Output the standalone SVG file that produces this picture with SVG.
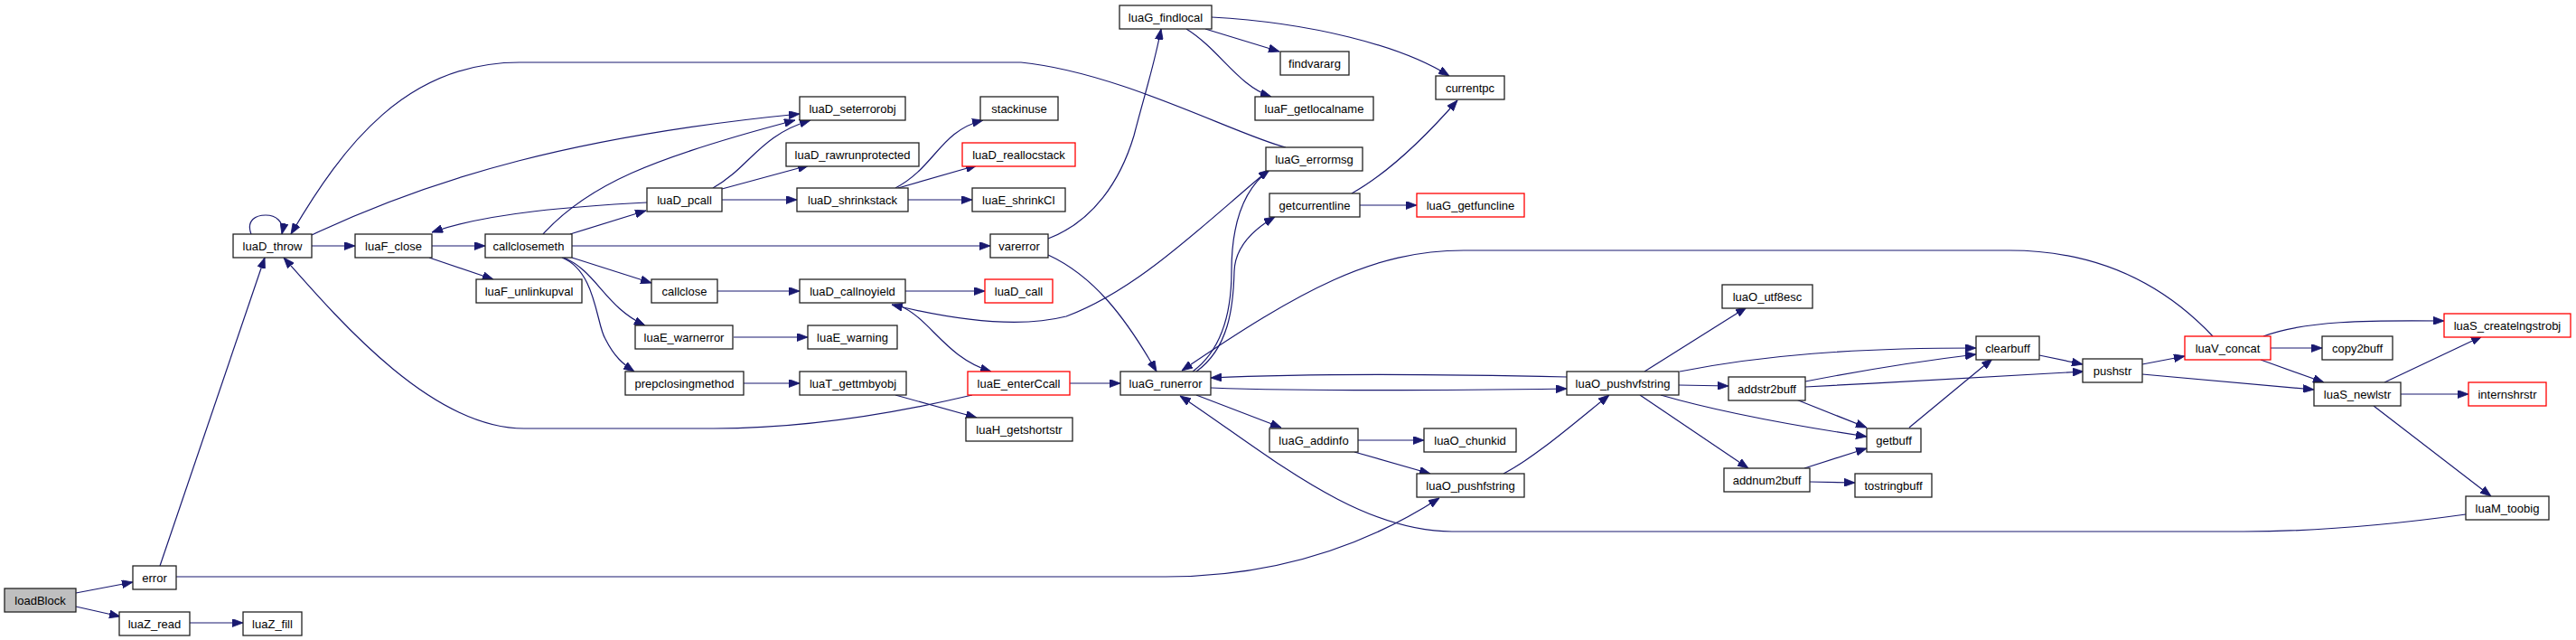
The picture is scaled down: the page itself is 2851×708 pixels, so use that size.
<svg xmlns="http://www.w3.org/2000/svg" width="2851" height="708" viewBox="0 0 2851 708">
<defs>
<style>
.n rect{fill:#fff;stroke:#222;stroke-width:1.3}
.n.r rect{stroke:#ff0000}
.n.g rect{fill:#bfbfbf}
.n text{font-family:"Liberation Sans",Arial,sans-serif;font-size:13px;fill:#000;text-anchor:middle}
.e path{fill:none;stroke:#191970;stroke-width:1.2;marker-end:url(#ah)}
</style>
<marker id="ah" markerUnits="userSpaceOnUse" markerWidth="12" markerHeight="9" refX="12" refY="4.5" orient="auto">
<path d="M0,0 L12,4.5 L0,9 z" fill="#191970" stroke="#191970" stroke-width="0.8"/>
</marker>
</defs>
<rect width="2851" height="708" fill="#fff"/>
<g id="edges" class="e">
<path d="M84,656 L147,644"/>
<path d="M84,671 L133,682"/>
<path d="M210,689 L269,689"/>
<path d="M177,626 L293,285"/>
<path d="M195,638 L1290,638 C1420,638 1520,598 1593,551"/>
<path d="M278,259 C272,243 284,238 294,238 C305,238 315,245 312,259"/>
<path d="M345,272 L393,272"/>
<path d="M478,272 L537,272"/>
<path d="M475,285 L546,309"/>
<path d="M345,260 C480,196 640,150 885,126"/>
<path d="M601,259 C650,205 720,175 880,133"/>
<path d="M789,208 C830,185 840,150 897,133"/>
<path d="M631,259 L715,233"/>
<path d="M633,272 L1096,272"/>
<path d="M633,285 L721,313"/>
<path d="M624,285 C660,300 670,340 714,360"/>
<path d="M622,285 C660,300 660,360 670,375 C680,395 690,403 702,411"/>
<path d="M716,224 C640,228 540,235 478,257"/>
<path d="M799,209 L895,183"/>
<path d="M799,221 L882,221"/>
<path d="M991,208 C1035,185 1040,145 1088,133"/>
<path d="M994,208 L1081,183"/>
<path d="M1005,221 L1076,221"/>
<path d="M1160,264 C1210,245 1240,200 1255,150 C1268,100 1278,70 1285,32"/>
<path d="M1160,282 C1210,305 1245,350 1280,411"/>
<path d="M794,322 L885,322"/>
<path d="M1002,322 L1090,322"/>
<path d="M812,373 L894,373"/>
<path d="M823,424 L885,424"/>
<path d="M991,437 L1081,462"/>
<path d="M1076,437 C1000,455 900,474 790,474 L580,474 C480,474 380,360 314,285"/>
<path d="M1184,424 L1240,424"/>
<path d="M995,338 C1030,352 1045,395 1097,411"/>
<path d="M1403,189 C1330,250 1260,320 1180,350 C1120,365 1040,350 987,337"/>
<path d="M1423,163 C1370,150 1240,80 1130,69 L575,69 C450,69 380,160 322,259"/>
<path d="M1334,32 L1416,57"/>
<path d="M1313,32 C1350,55 1370,95 1407,107"/>
<path d="M1341,19 C1450,25 1550,50 1604,84"/>
<path d="M1496,214 C1530,195 1570,160 1613,111"/>
<path d="M1505,227 L1568,227"/>
<path d="M1320,411 C1355,385 1363,340 1363,300 C1363,250 1375,210 1405,188"/>
<path d="M1324,411 C1360,385 1365,340 1366,300 C1367,275 1385,255 1411,240"/>
<path d="M2449,372 C2400,320 2330,277 2224,277 L1620,277 C1520,277 1440,320 1308,410"/>
<path d="M1734,417 C1600,414 1450,413 1340,418"/>
<path d="M1340,429 C1450,433 1600,432 1734,430"/>
<path d="M1324,437 L1418,473"/>
<path d="M2729,569 C2650,580 2560,588 2483,588 L1607,588 C1500,588 1400,500 1306,438"/>
<path d="M1503,487 L1576,487"/>
<path d="M1499,500 L1583,524"/>
<path d="M1664,524 C1700,505 1740,470 1781,437"/>
<path d="M1820,411 L1933,340"/>
<path d="M1859,411 C1950,393 2050,385 2187,385"/>
<path d="M1858,426 L1913,427"/>
<path d="M1838,437 C1900,455 1980,470 2066,483"/>
<path d="M1815,437 L1935,518"/>
<path d="M1998,422 C2060,410 2120,400 2187,392"/>
<path d="M1998,428 C2100,423 2200,416 2306,411"/>
<path d="M1988,442 L2066,473"/>
<path d="M1997,518 L2066,496"/>
<path d="M2003,533 L2053,534"/>
<path d="M2113,473 L2205,397"/>
<path d="M2257,393 L2305,403"/>
<path d="M2371,403 L2418,394"/>
<path d="M2371,414 L2561,431"/>
<path d="M2505,372 C2550,355 2620,354 2705,355"/>
<path d="M2513,385 L2570,385"/>
<path d="M2502,398 L2572,423"/>
<path d="M2639,423 L2747,372"/>
<path d="M2657,436 L2732,436"/>
<path d="M2627,449 L2757,549"/>
</g>
<g id="loadBlock" class="n g"><rect x="5" y="651" width="79" height="26"/><text x="44.5" y="668.5">loadBlock</text></g>
<g id="error" class="n"><rect x="147" y="626" width="48" height="26"/><text x="171" y="643.5">error</text></g>
<g id="luaZ_read" class="n"><rect x="132" y="677" width="78" height="26"/><text x="171" y="694.5">luaZ_read</text></g>
<g id="luaZ_fill" class="n"><rect x="269" y="677" width="65" height="26"/><text x="301.5" y="694.5">luaZ_fill</text></g>
<g id="luaD_throw" class="n"><rect x="258" y="259" width="87" height="26"/><text x="301.5" y="276.5">luaD_throw</text></g>
<g id="luaF_close" class="n"><rect x="393" y="259" width="85" height="26"/><text x="435.5" y="276.5">luaF_close</text></g>
<g id="callclosemeth" class="n"><rect x="537" y="259" width="96" height="26"/><text x="585" y="276.5">callclosemeth</text></g>
<g id="luaF_unlinkupval" class="n"><rect x="527" y="309" width="117" height="26"/><text x="585.5" y="326.5">luaF_unlinkupval</text></g>
<g id="luaD_seterrorobj" class="n"><rect x="885" y="107" width="117" height="26"/><text x="943.5" y="124.5">luaD_seterrorobj</text></g>
<g id="luaD_rawrunprotected" class="n"><rect x="870" y="158" width="147" height="26"/><text x="943.5" y="175.5">luaD_rawrunprotected</text></g>
<g id="luaD_pcall" class="n"><rect x="716" y="208" width="83" height="26"/><text x="757.5" y="225.5">luaD_pcall</text></g>
<g id="luaD_shrinkstack" class="n"><rect x="882" y="208" width="123" height="26"/><text x="943.5" y="225.5">luaD_shrinkstack</text></g>
<g id="stackinuse" class="n"><rect x="1085" y="107" width="86" height="26"/><text x="1128" y="124.5">stackinuse</text></g>
<g id="luaD_reallocstack" class="n r"><rect x="1065" y="158" width="125" height="26"/><text x="1127.5" y="175.5">luaD_reallocstack</text></g>
<g id="luaE_shrinkCI" class="n"><rect x="1076" y="208" width="103" height="26"/><text x="1127.5" y="225.5">luaE_shrinkCI</text></g>
<g id="varerror" class="n"><rect x="1096" y="259" width="64" height="26"/><text x="1128" y="276.5">varerror</text></g>
<g id="callclose" class="n"><rect x="721" y="309" width="73" height="26"/><text x="757.5" y="326.5">callclose</text></g>
<g id="luaD_callnoyield" class="n"><rect x="885" y="309" width="117" height="26"/><text x="943.5" y="326.5">luaD_callnoyield</text></g>
<g id="luaD_call" class="n r"><rect x="1090" y="309" width="75" height="26"/><text x="1127.5" y="326.5">luaD_call</text></g>
<g id="luaE_warnerror" class="n"><rect x="703" y="360" width="108" height="26"/><text x="757" y="377.5">luaE_warnerror</text></g>
<g id="luaE_warning" class="n"><rect x="894" y="360" width="99" height="26"/><text x="943.5" y="377.5">luaE_warning</text></g>
<g id="prepclosingmethod" class="n"><rect x="692" y="411" width="131" height="26"/><text x="757.5" y="428.5">prepclosingmethod</text></g>
<g id="luaT_gettmbyobj" class="n"><rect x="885" y="411" width="118" height="26"/><text x="944" y="428.5">luaT_gettmbyobj</text></g>
<g id="luaE_enterCcall" class="n r"><rect x="1071" y="411" width="113" height="26"/><text x="1127.5" y="428.5">luaE_enterCcall</text></g>
<g id="luaH_getshortstr" class="n"><rect x="1069" y="462" width="118" height="26"/><text x="1128" y="479.5">luaH_getshortstr</text></g>
<g id="luaG_runerror" class="n"><rect x="1240" y="411" width="100" height="26"/><text x="1290" y="428.5">luaG_runerror</text></g>
<g id="luaG_findlocal" class="n"><rect x="1239" y="6" width="102" height="26"/><text x="1290" y="23.5">luaG_findlocal</text></g>
<g id="findvararg" class="n"><rect x="1417" y="57" width="76" height="26"/><text x="1455" y="74.5">findvararg</text></g>
<g id="luaF_getlocalname" class="n"><rect x="1389" y="107" width="131" height="26"/><text x="1454.5" y="124.5">luaF_getlocalname</text></g>
<g id="currentpc" class="n"><rect x="1589" y="84" width="76" height="26"/><text x="1627" y="101.5">currentpc</text></g>
<g id="luaG_errormsg" class="n"><rect x="1401" y="163" width="107" height="26"/><text x="1454.5" y="180.5">luaG_errormsg</text></g>
<g id="getcurrentline" class="n"><rect x="1405" y="214" width="100" height="26"/><text x="1455" y="231.5">getcurrentline</text></g>
<g id="luaG_getfuncline" class="n r"><rect x="1568" y="214" width="119" height="26"/><text x="1627.5" y="231.5">luaG_getfuncline</text></g>
<g id="luaG_addinfo" class="n"><rect x="1405" y="474" width="98" height="26"/><text x="1454" y="491.5">luaG_addinfo</text></g>
<g id="luaO_chunkid" class="n"><rect x="1576" y="474" width="102" height="26"/><text x="1627" y="491.5">luaO_chunkid</text></g>
<g id="luaO_pushfstring" class="n"><rect x="1568" y="524" width="119" height="26"/><text x="1627.5" y="541.5">luaO_pushfstring</text></g>
<g id="luaO_pushvfstring" class="n"><rect x="1734" y="411" width="124" height="26"/><text x="1796" y="428.5">luaO_pushvfstring</text></g>
<g id="luaO_utf8esc" class="n"><rect x="1906" y="315" width="100" height="26"/><text x="1956" y="332.5">luaO_utf8esc</text></g>
<g id="addstr2buff" class="n"><rect x="1913" y="417" width="85" height="26"/><text x="1955.5" y="434.5">addstr2buff</text></g>
<g id="getbuff" class="n"><rect x="2066" y="474" width="60" height="26"/><text x="2096" y="491.5">getbuff</text></g>
<g id="addnum2buff" class="n"><rect x="1908" y="518" width="95" height="26"/><text x="1955.5" y="535.5">addnum2buff</text></g>
<g id="tostringbuff" class="n"><rect x="2053" y="524" width="85" height="26"/><text x="2095.5" y="541.5">tostringbuff</text></g>
<g id="clearbuff" class="n"><rect x="2187" y="372" width="70" height="26"/><text x="2222" y="389.5">clearbuff</text></g>
<g id="pushstr" class="n"><rect x="2305" y="397" width="66" height="26"/><text x="2338" y="414.5">pushstr</text></g>
<g id="luaV_concat" class="n r"><rect x="2418" y="372" width="95" height="26"/><text x="2465.5" y="389.5">luaV_concat</text></g>
<g id="copy2buff" class="n"><rect x="2570" y="372" width="78" height="26"/><text x="2609" y="389.5">copy2buff</text></g>
<g id="luaS_createlngstrobj" class="n r"><rect x="2705" y="347" width="140" height="26"/><text x="2775" y="364.5">luaS_createlngstrobj</text></g>
<g id="luaS_newlstr" class="n"><rect x="2561" y="423" width="96" height="26"/><text x="2609" y="440.5">luaS_newlstr</text></g>
<g id="internshrstr" class="n r"><rect x="2732" y="423" width="86" height="26"/><text x="2775" y="440.5">internshrstr</text></g>
<g id="luaM_toobig" class="n"><rect x="2729" y="549" width="92" height="26"/><text x="2775" y="566.5">luaM_toobig</text></g>
</svg>
